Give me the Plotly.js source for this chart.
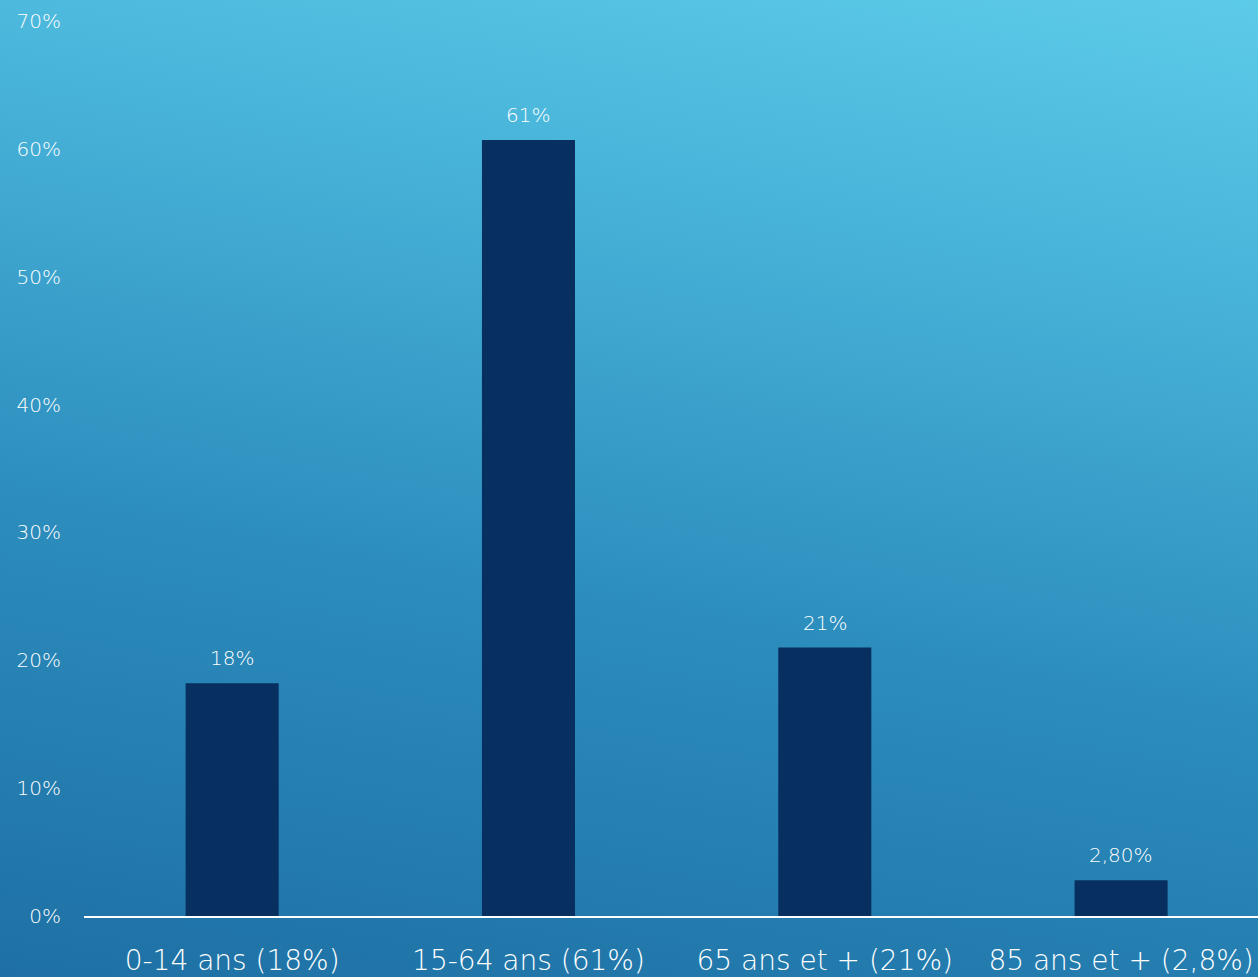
<!DOCTYPE html>
<html>
<head>
<meta charset="utf-8">
<script src="https://cdn.plot.ly/plotly-3.0.1.min.js"></script>
<style>
  html, body { margin: 0; padding: 0; }
  #chart { width: 1258px; height: 977px;
    background: linear-gradient(10deg, #1e70a4 0%, #2c8dbd 40%, #48b3d9 75%, #5ccbe8 100%); }
</style>
</head>
<body>
<div id="chart"></div>
<script>
const categories = ["0-14 ans (18%)", "15-64 ans (61%)", "65 ans et + (21%)", "85 ans et + (2,8%)"];
const values = [18.2, 60.7, 21.0, 2.8];
const valueLabels = ["18%", "61%", "21%", "2,80%"];
const yTickVals = [0, 10, 20, 30, 40, 50, 60, 70];
const yTickText = ["0%", "10%", "20%", "30%", "40%", "50%", "60%", "70%"];

const FONT = "'DejaVu Sans', sans-serif";

const trace = {
  type: "bar",
  x: categories,
  y: values,
  marker: { color: "#072f5f" },
  hoverinfo: "skip"
};

const annotations = categories.map((c, i) => ({
  x: c, y: values[i], xref: "x", yref: "y",
  text: valueLabels[i], showarrow: false,
  yanchor: "middle", yshift: 25,
  font: { family: FONT, size: 20, color: "#ffffff", weight: 200 }
}));

const layout = {
  width: 1258, height: 977,
  margin: { l: 84, r: 0, t: 21, b: 61 },
  paper_bgcolor: "rgba(0,0,0,0)",
  plot_bgcolor: "rgba(0,0,0,0)",
  bargap: 0.686,
  showlegend: false,
  xaxis: {
    type: "category",
    range: [-0.5, 3.462],
    showgrid: false, zeroline: false,
    showline: true, linecolor: "#ffffff", linewidth: 2,
    ticks: "", ticklabelstandoff: 18,
    tickfont: { family: FONT, size: 28, color: "#ffffff", weight: 200 }
  },
  yaxis: {
    range: [0, 70],
    tickvals: yTickVals, ticktext: yTickText,
    showgrid: false, zeroline: false, showline: false,
    ticks: "", ticklabelstandoff: 22,
    tickfont: { family: FONT, size: 20, color: "#ffffff", weight: 200 }
  },
  annotations: annotations
};

Plotly.newPlot("chart", [trace], layout, { displayModeBar: false, staticPlot: true });
</script>
</body>
</html>
